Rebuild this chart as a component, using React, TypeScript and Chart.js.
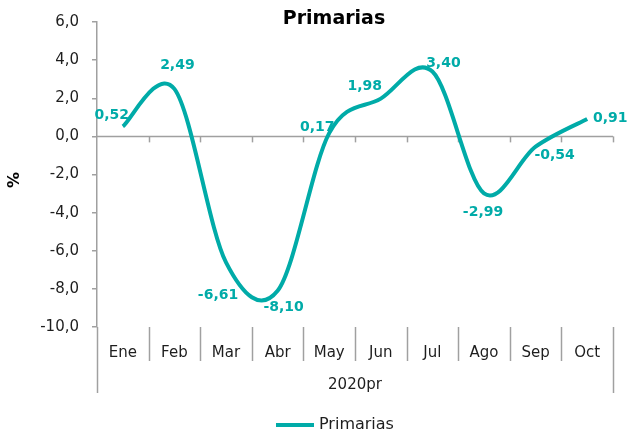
import { useEffect, useRef } from "react";
import { Chart, registerables } from "chart.js";

Chart.register(...registerables);

const CATEGORIES = ["Ene", "Feb", "Mar", "Abr", "May", "Jun", "Jul", "Ago", "Sep", "Oct"];
const PRIMARIAS = [0.52, 2.49, -6.61, -8.1, 0.17, 1.98, 3.4, -2.99, -0.54, 0.91];
const SERIES_NAME = "Primarias";
const TITLE = "Primarias";
const GROUP_LABEL = "2020pr";
const Y_TITLE = "%";
const Y_TICKS = [-10, -8, -6, -4, -2, 0, 2, 4, 6];

// label placement offsets (px) relative to each point — styling only
const LABEL_OFFSETS: [number, number][] = [
  [-11, -11], [3, -24], [-8, 33], [6, 17], [-12, -6],
  [-16, -12], [11, -8], [-1, 19], [19, 9], [23, -1],
];

const TEAL = "#00ABA8";
const GRAY = "#A0A0A0";
const TEXT = "#1E1E1E";
const FONT = "'DejaVu Sans', Verdana, sans-serif";

const fmt1 = (v: number) => v.toFixed(1).replace(".", ",");
const fmt2 = (v: number) => v.toFixed(2).replace(".", ",");

const decorPlugin = {
  id: "decor",
  beforeDatasetsDraw(chart: any) {
    const { ctx, chartArea } = chart;
    const y = chart.scales.y;
    const n = CATEGORIES.length;
    const w = (chartArea.right - chartArea.left) / n;
    const y0 = y.getPixelForValue(0);

    // Excel-like smoothing: uniform Catmull-Rom control points
    const meta = chart.getDatasetMeta(0);
    if (meta.dataset && meta.dataset.updateControlPoints) {
      meta.dataset.updateControlPoints(chartArea, "x");
    }
    const pts = meta.data;
    for (let i = 0; i < pts.length; i++) {
      const p = pts[i];
      const prev = pts[i - 1] || p;
      const next = pts[i + 1] || p;
      const dx = (next.x - prev.x) / 6;
      const dy = (next.y - prev.y) / 6;
      p.cp1x = p.x - dx;
      p.cp1y = p.y - dy;
      p.cp2x = p.x + dx;
      p.cp2y = p.y + dy;
    }
    if (meta.dataset) meta.dataset._path = undefined;

    ctx.save();
    ctx.strokeStyle = GRAY;
    ctx.lineWidth = 1.5;
    // zero line
    ctx.beginPath();
    ctx.moveTo(chartArea.left, y0);
    ctx.lineTo(chartArea.right, y0);
    ctx.stroke();
    // tick marks below zero line
    for (let i = 1; i <= n; i++) {
      const px = Math.round(chartArea.left + i * w) + 0.5;
      ctx.beginPath();
      ctx.moveTo(px, y0);
      ctx.lineTo(px, y0 + 6);
      ctx.stroke();
    }
    // category separators under plot
    const b = chartArea.bottom;
    for (let i = 0; i <= n; i++) {
      const px = Math.round(chartArea.left + i * w) + 0.5;
      const end = i === 0 || i === n ? b + 66 : b + 34;
      ctx.beginPath();
      ctx.moveTo(px, b);
      ctx.lineTo(px, end);
      ctx.stroke();
    }
    ctx.restore();
  },
  afterDraw(chart: any) {
    const { ctx, chartArea } = chart;
    ctx.save();
    // title
    ctx.fillStyle = "#000";
    ctx.font = `bold 19px ${FONT}`;
    ctx.textAlign = "center";
    ctx.textBaseline = "alphabetic";
    ctx.fillText(TITLE, 334, 24);
    // group label
    ctx.fillStyle = TEXT;
    ctx.font = `15px ${FONT}`;
    ctx.textBaseline = "middle";
    ctx.fillText(GROUP_LABEL, (chartArea.left + chartArea.right) / 2, chartArea.bottom + 58);
    // y title
    ctx.save();
    ctx.translate(15, 180);
    ctx.rotate(-Math.PI / 2);
    ctx.font = `bold 16px ${FONT}`;
    ctx.fillStyle = "#000";
    ctx.fillText(Y_TITLE, 0, 0);
    ctx.restore();
    // legend
    ctx.strokeStyle = TEAL;
    ctx.lineWidth = 4;
    ctx.beginPath();
    ctx.moveTo(276, 425);
    ctx.lineTo(314, 425);
    ctx.stroke();
    ctx.fillStyle = TEXT;
    ctx.font = `16px ${FONT}`;
    ctx.textAlign = "left";
    ctx.fillText(SERIES_NAME, 319, 425);
    // data labels
    const meta = chart.getDatasetMeta(0);
    ctx.font = `bold 14px ${FONT}`;
    ctx.fillStyle = TEAL;
    ctx.textAlign = "center";
    ctx.textBaseline = "middle";
    meta.data.forEach((pt: any, i: number) => {
      const [dx, dy] = LABEL_OFFSETS[i];
      ctx.fillText(fmt2(PRIMARIAS[i]), pt.x + dx, pt.y + dy);
    });
    ctx.restore();
  },
};

export default function App() {
  const ref = useRef<HTMLCanvasElement | null>(null);
  useEffect(() => {
    if (!ref.current) return;
    const chart = new Chart(ref.current, {
      type: "line",
      data: {
        labels: CATEGORIES,
        datasets: [
          {
            label: SERIES_NAME,
            data: PRIMARIAS,
            borderColor: TEAL,
            backgroundColor: TEAL,
            borderWidth: 4,
            pointRadius: 0,
            pointHoverRadius: 0,
            tension: 0.4,
            fill: false,
          },
        ],
      },
      options: {
        responsive: false,
        animation: false,
        layout: { padding: { top: 10, right: 14, left: 0, bottom: 0 } },
        plugins: {
          title: { display: false },
          tooltip: { enabled: false },
          legend: { display: false },
        },
        scales: {
          x: {
            type: "category",
            offset: true,
            grid: { display: false },
            border: { display: false },
            ticks: { font: { family: FONT, size: 15 }, color: TEXT, padding: 9 },
            afterFit: (s: any) => {
              s.height = 110;
            },
          },
          y: {
            min: -10,
            max: 6,
            afterBuildTicks: (s: any) => {
              s.ticks = Y_TICKS.map((v) => ({ value: v }));
            },
            afterFit: (s: any) => {
              s.width = 97;
            },
            grid: { drawOnChartArea: false, drawTicks: true, tickLength: 5, color: GRAY, lineWidth: 1.5 },
            border: { display: true, color: GRAY, width: 1.5 },
            ticks: {
              font: { family: FONT, size: 15 },
              color: TEXT,
              padding: 13,
              callback: (v: any) => fmt1(Number(v)),
            },
          },
        },
      },
      plugins: [decorPlugin],
    });
    return () => chart.destroy();
  }, []);
  return (
    <div style={{ position: "absolute", left: 0, top: 0, width: 627, height: 437, background: "#fff" }}>
      <canvas ref={ref} width={627} height={437} />
    </div>
  );
}
